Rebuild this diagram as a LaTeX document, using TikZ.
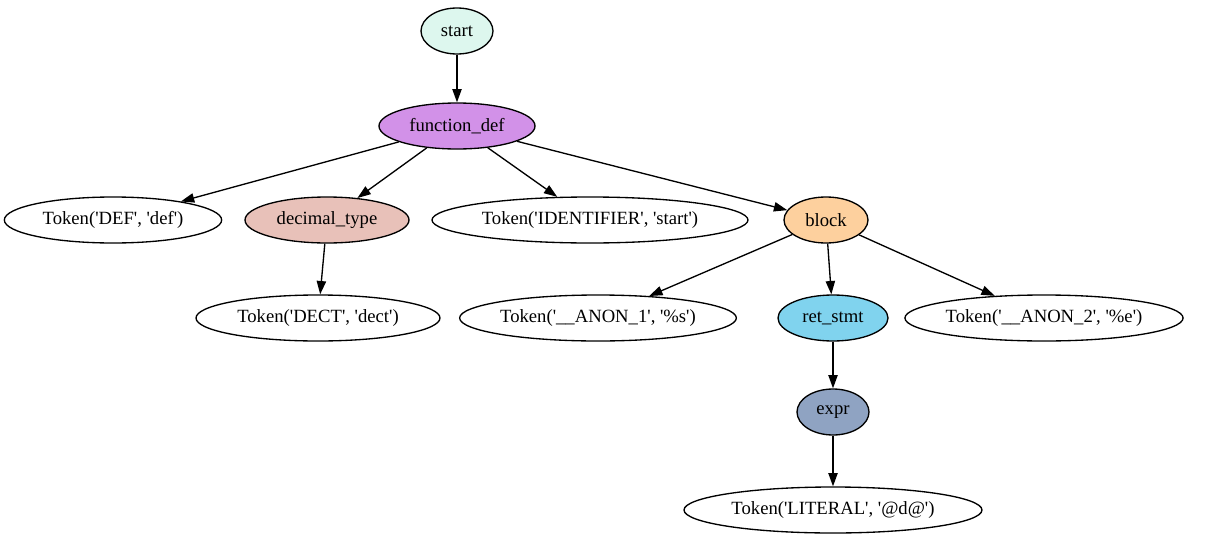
\documentclass[tikz,border=0pt]{standalone}
\usepackage{fontspec}
\newfontfamily\gvfont{Liberation Serif}
\usetikzlibrary{shapes.geometric,arrows.meta}
\definecolor{startcol}{HTML}{DDF7EE}
\definecolor{funccol}{HTML}{D291E8}
\definecolor{deccol}{HTML}{E8C1B9}
\definecolor{blockcol}{HTML}{FDD09E}
\definecolor{retcol}{HTML}{80D3EE}
\definecolor{exprcol}{HTML}{8FA3C2}
\tikzset{
    tree node/.style={ellipse, draw=black, line width=1pt, inner sep=0pt, minimum height=34.5pt, font=\gvfont\fontsize{14}{16}\selectfont},
    token/.style={tree node, fill=white},
    rule/.style={tree node, fill=#1},
    link/.style={-{Triangle[length=10pt,width=7pt]}, line width=1pt},
}
\begin{document}
\begin{tikzpicture}[x=0.75pt, y=-0.75pt]
                \useasboundingbox (0,0) rectangle (1210,539);
                % rules
                \node[rule=startcol, minimum width=54pt] (start) at (457,31) {start};
                \node[rule=funccol, minimum width=117pt] (funcdef) at (457,126) {function\_def};
                \node[rule=deccol, minimum width=123pt] (dectype) at (327,220) {decimal\_type};
                \node[rule=blockcol, minimum width=63pt] (block) at (826,220) {block};
                \node[rule=retcol, minimum width=82.5pt] (retstmt) at (833,318) {ret\_stmt};
                \node[rule=exprcol, minimum width=54pt] (expr) at (833,412) {expr};
                % tokens
                \node[token, minimum width=163pt] (def) at (113,220) {Token('DEF', 'def')};
                \node[token, minimum width=237pt] (ident) at (590,220) {Token('IDENTIFIER', 'start')};
                \node[token, minimum width=183pt] (dect) at (318,318) {Token('DECT', 'dect')};
                \node[token, minimum width=200pt] (anona) at (598,318) {Token('\_\_ANON\_1', '\%s')};
                \node[token, minimum width=197pt] (anonb) at (1044,318) {Token('\_\_ANON\_2', '\%e')};
                \node[token, minimum width=223.5pt] (literal) at (833,510) {Token('LITERAL', '@d@')};
                % edges
                \draw[link] (start) -- (funcdef);
                \draw[link] (funcdef) -- (def);
                \draw[link] (funcdef) -- (dectype);
                \draw[link] (funcdef) -- (ident);
                \draw[link] (funcdef) -- (block);
                \draw[link] (dectype) -- (dect);
                \draw[link] (block) -- (anona);
                \draw[link] (block) -- (retstmt);
                \draw[link] (block) -- (anonb);
                \draw[link] (retstmt) -- (expr);
                \draw[link] (expr) -- (literal);
            \end{tikzpicture}
\end{document}
